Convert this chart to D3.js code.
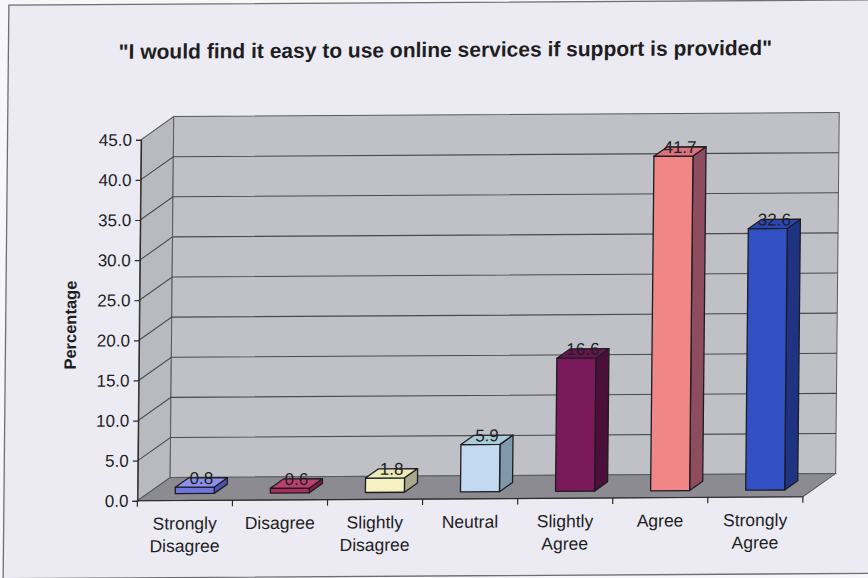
<!DOCTYPE html>
<html>
<head>
<meta charset="utf-8">
<script src="https://cdn.jsdelivr.net/npm/d3@7"></script>
<style>
  html, body { margin: 0; padding: 0; background: #f7f7fa; }
  svg { display: block; }
  text { font-family: "Liberation Sans", Arial, sans-serif; fill: #1e1e1e; }
</style>
</head>
<body>
<svg id="chart" width="868" height="578"></svg>
<script>
// Survey responses (percentage of respondents)
const title = '"I would find it easy to use online services if support is provided"';
const yTitle = "Percentage";
const categories = ["Strongly\nDisagree", "Disagree", "Slightly\nDisagree", "Neutral", "Slightly\nAgree", "Agree", "Strongly\nAgree"];
const values = [0.8, 0.6, 1.8, 5.9, 16.6, 41.7, 32.6];
const yTicks = [0, 5, 10, 15, 20, 25, 30, 35, 40, 45];

// Bar fills: front, top, side faces
const frontColors = ["#7176dc", "#ad2c5e", "#f4f1c2", "#c2d9f1", "#7a1a5c", "#f08686", "#3050c4"];
const topColors   = ["#8c90ea", "#bb426f", "#ebe9b6", "#aacbd8", "#671550", "#d9717f", "#2a47b0"];
const sideColors  = ["#4e53aa", "#7a1e42", "#aaa78b", "#7f98aa", "#4b0f3a", "#8e4d5e", "#1f3382"];

const W = 868, H = 578;
const svg = d3.select("#chart");

// 3D box geometry
const X0 = 139.5, X1 = 805;      // front edge of floor
const DX = 32.5, DY = 23;         // depth offset of the back wall
const zFront = 0.3, zBack = 0.7;  // depth slot occupied by the columns

const x = d3.scaleBand().domain(categories).range([X0, X1]).paddingInner(0).paddingOuter(0);
const y = d3.scaleLinear().domain([0, 45]).range([499, 138]);
const barW = 39;

const P = (px, v, z) => [px + z * DX, y(v) - z * DY];
const poly = pts => pts.map(p => p.join(",")).join(" ");

// slight shear of the whole sheet
const root = svg.append("g").attr("transform", "matrix(1,-0.006,-0.01,1,2.89,2.6)");

// sheet frame
root.append("rect")
  .attr("x", 6).attr("y", 2.5).attr("width", 880).attr("height", 573.5)
  .attr("fill", "#ecebf4").attr("stroke", "#6e6e74").attr("stroke-width", 1.3);

// title
root.append("text")
  .attr("x", 443).attr("y", 57)
  .attr("text-anchor", "middle")
  .attr("font-size", 21).attr("font-weight", "bold")
  .text(title);

// walls and floor
const vMax = 45;
root.append("polygon")
  .attr("points", poly([[X0, y(0)], [X0, y(vMax)], [X0 + DX, y(vMax) - DY], [X0 + DX, y(0) - DY]]))
  .attr("fill", "#b9b9c0").attr("stroke", "#5a5a5e").attr("stroke-width", 1);
root.append("polygon")
  .attr("points", poly([[X0 + DX, y(vMax) - DY], [X1 + DX, y(vMax) - DY], [X1 + DX, y(0) - DY], [X0 + DX, y(0) - DY]]))
  .attr("fill", "#c0c0c7").attr("stroke", "#5a5a5e").attr("stroke-width", 1);
root.append("polygon")
  .attr("points", poly([[X0, y(0)], [X1, y(0)], [X1 + DX, y(0) - DY], [X0 + DX, y(0) - DY]]))
  .attr("fill", "#8c8b91").attr("stroke", "#5a5a5e").attr("stroke-width", 1);

// gridlines on the side and back walls
const grid = root.append("g").attr("stroke", "#4a4a4e").attr("stroke-width", 1.1).attr("fill", "none");
yTicks.filter(t => t > 0 && t < vMax).forEach(t => {
  grid.append("polyline")
    .attr("points", poly([[X0, y(t)], [X0 + DX, y(t) - DY], [X1 + DX, y(t) - DY]]));
});

// value axis
const yAxis = d3.axisLeft(y).tickValues(yTicks).tickFormat(d3.format(".1f")).tickSizeOuter(0).tickSize(5).tickPadding(4);
const yg = root.append("g").attr("transform", `translate(${X0},0)`).call(yAxis);
yg.select(".domain").attr("stroke", "#2a2a2a").attr("stroke-width", 1.2);
yg.selectAll(".tick line").attr("stroke", "#2a2a2a").attr("stroke-width", 1.2);
yg.selectAll(".tick text").attr("font-size", 17).attr("fill", "#1e1e1e")
  .attr("font-family", "'Liberation Sans', Arial, sans-serif");

// category axis: front floor edge, ticks on band boundaries, two-line labels
root.append("line")
  .attr("x1", X0).attr("x2", X1).attr("y1", y(0)).attr("y2", y(0))
  .attr("stroke", "#2a2a2a").attr("stroke-width", 1.2);
const bounds = categories.map(c => x(c)).concat([X1]);
root.append("g").selectAll("line").data(bounds).join("line")
  .attr("x1", d => d).attr("x2", d => d)
  .attr("y1", y(0)).attr("y2", y(0) + 6)
  .attr("stroke", "#2a2a2a").attr("stroke-width", 1.2);
const labels = root.append("g").selectAll("text").data(categories).join("text")
  .attr("text-anchor", "middle").attr("font-size", 17.5)
  .attr("x", d => x(d) + x.bandwidth() / 2).attr("y", 528);
labels.selectAll("tspan").data(d => d.split("\n")).join("tspan")
  .attr("x", function () { return d3.select(this.parentNode).attr("x"); })
  .attr("dy", (d, i) => i === 0 ? 0 : 22.5)
  .text(d => d);

// axis title
root.append("text")
  .attr("transform", "translate(76.5,323) rotate(-90)")
  .attr("text-anchor", "middle").attr("font-size", 16.5).attr("font-weight", "bold")
  .text(yTitle);

// 3D columns
const bars = root.append("g").selectAll("g").data(values).join("g");
bars.each(function (v, i) {
  const g = d3.select(this);
  const left = x(categories[i]) + (x.bandwidth() - barW) / 2;
  const right = left + barW;
  const stroke = { stroke: "#1c1c22", "stroke-width": 1.3, "stroke-linejoin": "round" };
  const front = [P(left, 0, zFront), P(right, 0, zFront), P(right, v, zFront), P(left, v, zFront)];
  const side = [P(right, 0, zFront), P(right, 0, zBack), P(right, v, zBack), P(right, v, zFront)];
  const top = [P(left, v, zFront), P(right, v, zFront), P(right, v, zBack), P(left, v, zBack)];
  [[side, sideColors[i]], [front, frontColors[i]], [top, topColors[i]]].forEach(([pts, fill]) => {
    const p = g.append("polygon").attr("points", poly(pts)).attr("fill", fill);
    Object.entries(stroke).forEach(([k, val]) => p.attr(k, val));
  });
  // value label sits on the top face
  const zc = (zFront + zBack) / 2;
  const c = P((left + right) / 2, v, zc);
  g.append("text")
    .attr("x", c[0]).attr("y", c[1] + 1.5)
    .attr("text-anchor", "middle").attr("font-size", 17)
    .attr("fill", "#1e1e1e")
    .text(d3.format(".1f")(v));
});
</script>
</body>
</html>
